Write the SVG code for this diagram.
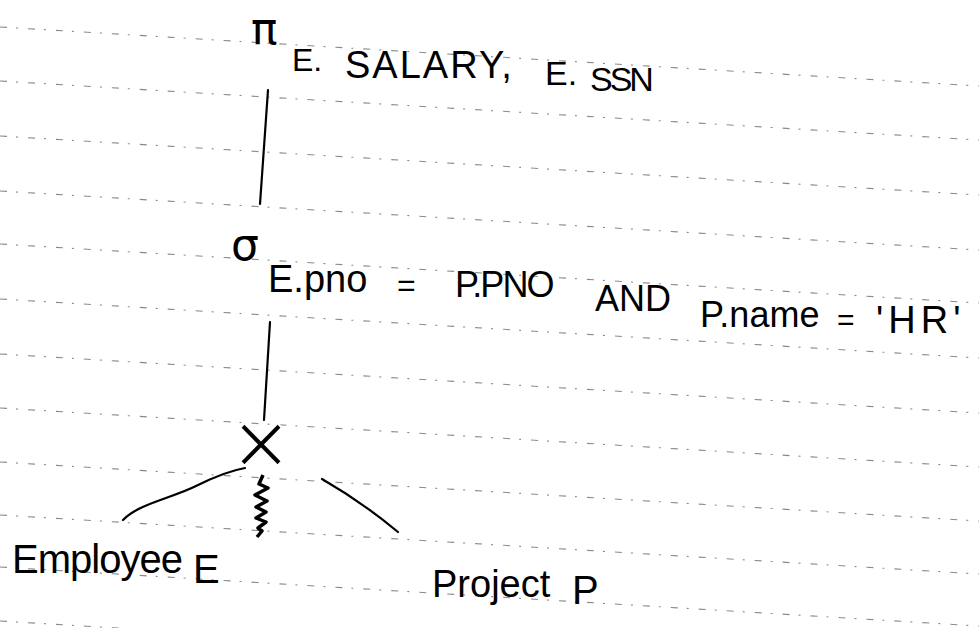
<svg xmlns="http://www.w3.org/2000/svg" width="979" height="628" viewBox="0 0 979 628">
<style>
.rule{stroke:#8a8a8a;stroke-width:1.1;stroke-dasharray:7 9 2 10;fill:none}
.ink{stroke:#000;stroke-width:2.2;fill:none;stroke-linecap:round;stroke-linejoin:round}
.t{font-family:"Liberation Sans",Arial,sans-serif;fill:#000}
.g{font-family:"DejaVu Sans",sans-serif;fill:#000}
</style>
<rect width="979" height="628" fill="#fff"/>
<g id="ruled-lines">
<path class="rule" d="M0,27 L979,86"/>
<path class="rule" d="M0,81 L979,140"/>
<path class="rule" d="M0,136 L979,195"/>
<path class="rule" d="M0,191 L979,250"/>
<path class="rule" d="M0,244 L979,303"/>
<path class="rule" d="M0,299 L979,358"/>
<path class="rule" d="M0,354 L979,413"/>
<path class="rule" d="M0,408 L979,467"/>
<path class="rule" d="M0,462 L979,521"/>
<path class="rule" d="M0,515 L979,574"/>
<path class="rule" d="M0,567 L979,626"/>
<path class="rule" d="M0,621 L979,680"/>
</g>
<g id="connectors">
<path class="ink" d="M268,90 L260,204"/>
<path class="ink" d="M270,322 L264,420"/>
<path class="ink" d="M245,468 C228,471 212,478 196,486 C172,498 138,504 123,520"/>
<path class="ink" d="M322,479 Q362,502 398,532"/>
</g>
<g id="node-projection">
<text class="g" x="251" y="44" font-size="44">π</text>
<text class="t" font-size="38"><tspan x="292" y="71" font-size="32">E. </tspan><tspan x="345" y="78" letter-spacing="2">SALARY, </tspan><tspan x="545" y="85" font-size="34">E.</tspan><tspan x="590" y="91" font-size="34" letter-spacing="-3">SSN</tspan></text>
</g>
<g id="node-selection">
<text class="g" x="231" y="260" font-size="44">σ</text>
<text class="t" font-size="36"><tspan x="268" y="292" font-size="38">E.pno </tspan><tspan x="397" y="296" font-size="32">= </tspan><tspan x="455" y="297" letter-spacing="-2">P.PNO </tspan><tspan x="595" y="311">AND </tspan><tspan x="700" y="327">P.name </tspan><tspan x="837" y="330" font-size="30">= </tspan><tspan x="876" y="333" font-size="38" letter-spacing="5">'HR'</tspan></text>
</g>
<g id="node-cross">
<text class="g" x="261" y="468" font-size="74" text-anchor="middle" stroke="#fff" stroke-width="2">×</text>
</g>
<g id="scribble">
<path d="M263,475 L259,484 L268,488 L255,495 L267,501 L256,507 L266,512 L256,518 L266,522 L258,528 L262,531 L257,537" stroke="#000" stroke-width="3.5" fill="none" stroke-linejoin="round"/>
</g>
<g id="node-employee">
<text class="t" font-size="40"><tspan x="12" y="573" letter-spacing="-1">Employee </tspan><tspan x="193" y="583">E</tspan></text>
</g>
<g id="node-project">
<text class="t" font-size="38"><tspan x="432" y="597">Project </tspan><tspan x="572" y="604" font-size="40">P</tspan></text>
</g>
</svg>
